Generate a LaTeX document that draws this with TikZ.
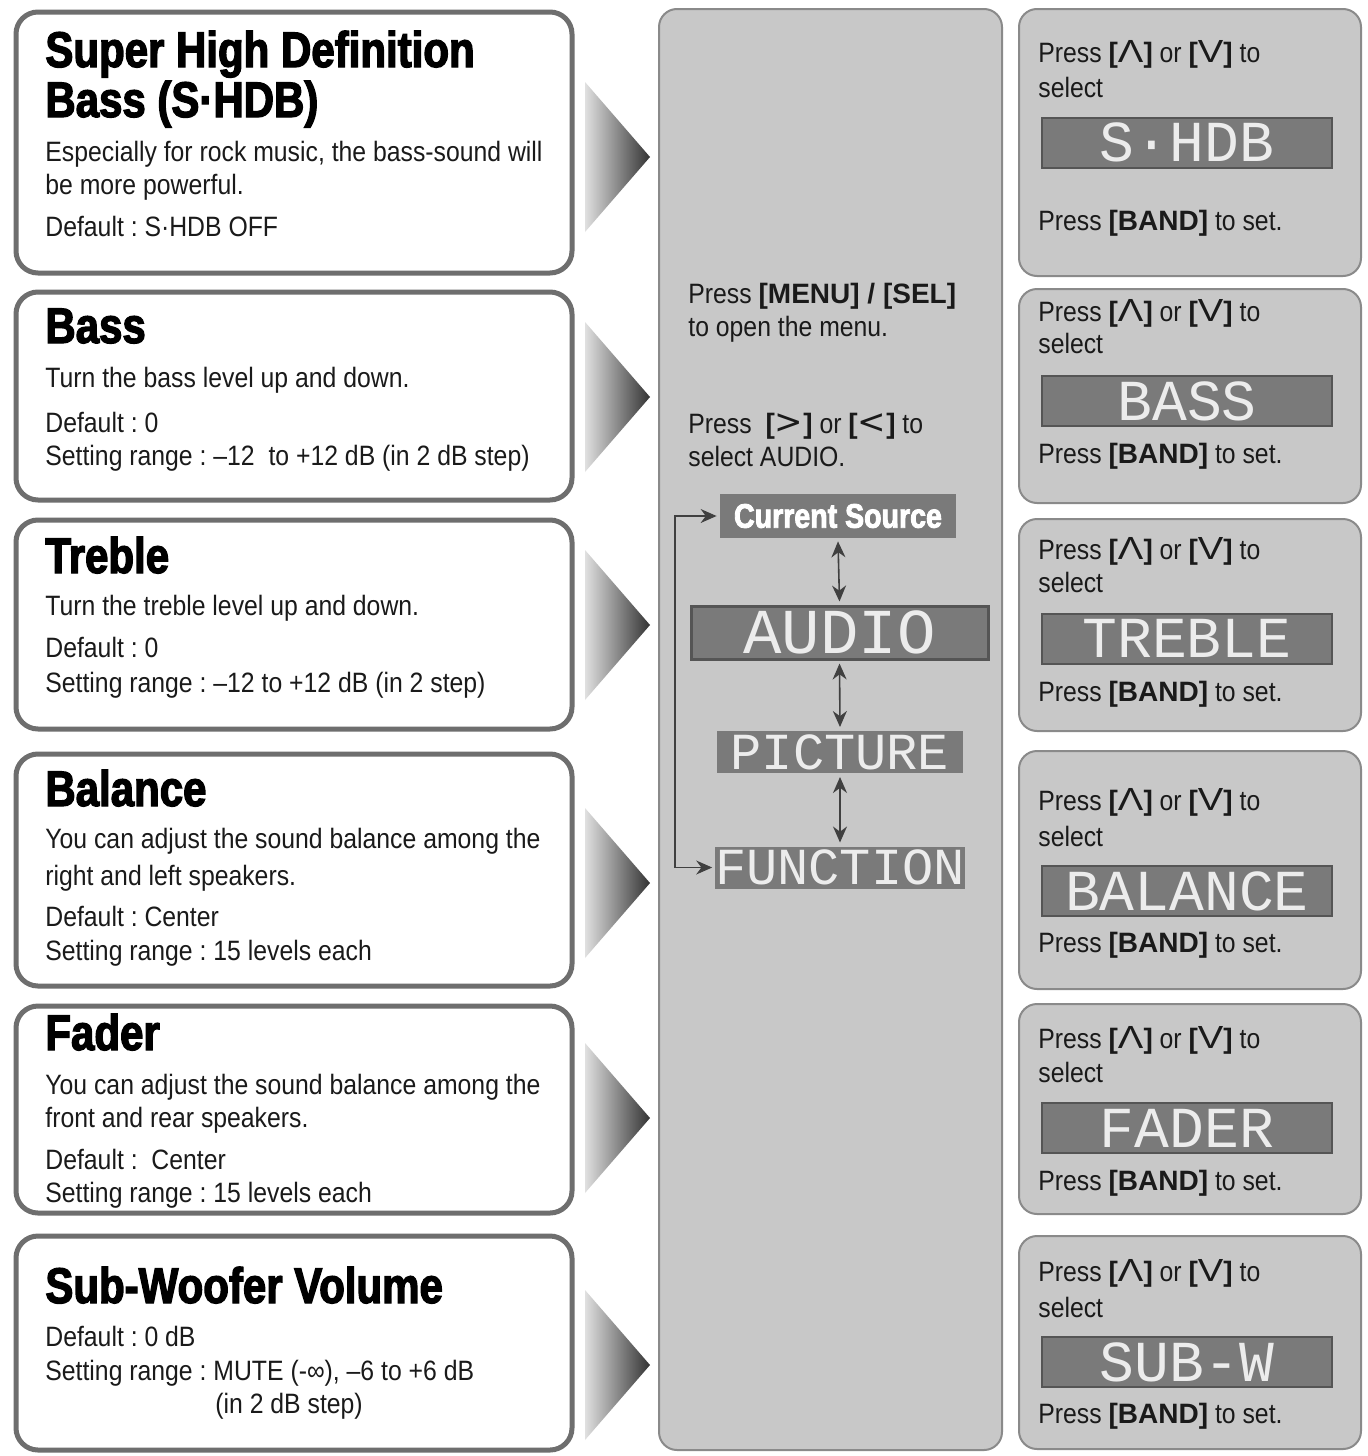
\documentclass[tikz,border=0pt]{standalone}
\usepackage{graphicx}
\usepackage{fontspec}
\setmainfont[FakeStretch=0.885,BoldFeatures={FakeStretch=1.0}]{Liberation Sans}
\newfontfamily\headfont[FakeStretch=0.84,BoldFeatures={FakeBold=2.6}]{Liberation Sans}
\newfontfamily\lcdfont{Liberation Mono}
\newfontfamily\symfont{DejaVu Sans}
\usetikzlibrary{arrows.meta}
\frenchspacing

\definecolor{boxedge}{HTML}{6E6E6E}
\definecolor{panelfill}{HTML}{C8C8C8}
\definecolor{paneledge}{HTML}{8A8A8A}
\definecolor{lcdfill}{HTML}{7A7A7A}
\definecolor{lcdedge}{HTML}{555555}
\definecolor{lcdtext}{HTML}{ECECEC}
\definecolor{inktext}{HTML}{1A1A1A}

\newcommand{\upkey}{\textbf{[}\scalebox{1.35}[1]{\fontsize{16}{16}\selectfont Λ}\textbf{]}}
\newcommand{\downkey}{\textbf{[}\scalebox{1.35}[1]{\fontsize{16}{16}\selectfont V}\textbf{]}}
\newcommand{\rightkey}{\textbf{[}{\symfont\fontsize{17}{17}\selectfont >}\textbf{]}}
\newcommand{\leftkey}{\textbf{[}{\symfont\fontsize{17}{17}\selectfont <}\textbf{]}}

\tikzset{
  infobox/.style={draw=boxedge, line width=2.5pt, fill=white, rounded corners=11pt},
  panel/.style={draw=paneledge, line width=1pt, fill=panelfill, rounded corners=9pt},
  lcd/.style={fill=lcdfill, draw=lcdedge, line width=1pt, inner sep=0pt, text=lcdtext},
  head/.style={anchor=base west, inner sep=0pt, text=black,
    font={\headfont\bfseries\fontsize{25}{25}\selectfont}},
  body/.style={anchor=base west, inner sep=0pt, text=inktext,
    font={\fontsize{14}{16.5}\selectfont}},
  updown/.style={draw=black!75, line width=0.8pt,
    {Stealth[length=8pt,width=7pt]}-{Stealth[length=8pt,width=7pt]}}
}

\begin{document}
\begin{tikzpicture}[x=0.5pt,y=-0.5pt]
  \useasboundingbox[fill=white] (0,0) rectangle (1368,1456);

  % left column
  \draw[infobox] (16,12) rectangle (572,273);
  \draw[infobox] (16,292) rectangle (572,500);
  \draw[infobox] (16,520) rectangle (572,729);
  \draw[infobox] (16,754) rectangle (572,986);
  \draw[infobox] (16,1006) rectangle (572,1213);
  \draw[infobox] (16,1236) rectangle (572,1450);

  \node[head] (shdb1) at (45,67) {Super High Definition};
  \node[head] (shdb2) at (45,117) {Bass (S·HDB)};
  \node[body] (shdb3) at (45,161) {Especially for rock music, the bass-sound will};
  \node[body] (shdb4) at (45,194) {be more powerful.};
  \node[body] (shdb5) at (45,236) {Default : S·HDB OFF};

  \node[head] (bass1) at (45,343) {Bass};
  \node[body] (bass2) at (45,387) {Turn the bass level up and down.};
  \node[body] (bass3) at (45,432) {Default : 0};
  \node[body] (bass4) at (45,465) {Setting range : –12\ \ to +12 dB (in 2 dB step)};

  \node[head] (treb1) at (45,573) {Treble};
  \node[body] (treb2) at (45,615) {Turn the treble level up and down.};
  \node[body] (treb3) at (45,657) {Default : 0};
  \node[body] (treb4) at (45,692) {Setting range : –12 to +12 dB (in 2 step)};

  \node[head] (bal1) at (45,806) {Balance};
  \node[body] (bal2) at (45,848) {You can adjust the sound balance among the};
  \node[body] (bal3) at (45,885) {right and left speakers.};
  \node[body] (bal4) at (45,926) {Default : Center};
  \node[body] (bal5) at (45,960) {Setting range : 15 levels each};

  \node[head] (fad1) at (45,1050) {Fader};
  \node[body] (fad2) at (45,1094) {You can adjust the sound balance among the};
  \node[body] (fad3) at (45,1127) {front and rear speakers.};
  \node[body] (fad4) at (45,1169) {Default :\ \ Center};
  \node[body] (fad5) at (45,1202) {Setting range : 15 levels each};

  \node[head] (sub1) at (45,1303) {Sub-Woofer Volume};
  \node[body] (sub2) at (45,1346) {Default : 0 dB};
  \node[body] (sub3) at (45,1380) {Setting range : MUTE (-∞), –6 to +6 dB};
  \node[body] (sub4) at (215,1413) {(in 2 dB step)};

  % grey pointers
  \foreach \c in {157,397,625,883,1118,1365}
    \shade[left color=black!12, right color=black!80]
      (585,\c-75) -- (650,\c) -- (585,\c+75) -- cycle;

  % menu column
  \draw[panel] (659,9) rectangle (1002,1450);
  \node[body] (menu1) at (688,303) {Press \textbf{[MENU] / [SEL]}};
  \node[body] (menu2) at (688,336) {to open the menu.};
  \node[body] (menu3) at (688,433) {Press\ \ \rightkey{} or \leftkey{} to};
  \node[body] (menu4) at (688,466) {select AUDIO.};

  \node[fill=lcdfill, text=white, inner sep=0pt, minimum width=118pt, minimum height=22pt,
    font={\headfont\bfseries\fontsize{17}{17}\selectfont}] (src) at (838,516) {Current Source};
  \node[lcd, minimum width=148.5pt, minimum height=26.5pt, line width=1.5pt,
    font={\lcdfont\fontsize{32}{32}\selectfont}] (audio) at (839.5,632.5) {AUDIO};
  \node[lcd, draw=none, minimum width=123pt, minimum height=21pt,
    font={\lcdfont\fontsize{26}{26}\selectfont}] (pict) at (840,752) {PICTURE};
  \node[lcd, draw=none, minimum width=123pt, minimum height=21pt,
    font={\lcdfont\fontsize{26}{26}\selectfont}] (func) at (840,867.5) {FUNCTION};

  \draw[updown] ([yshift=-1.5pt]src.south) -- ([yshift=1.5pt]audio.north);
  \draw[updown] ([yshift=-1.5pt]audio.south) -- ([yshift=1.5pt]pict.north);
  \draw[updown] ([yshift=-1.5pt]pict.south) -- ([yshift=1.5pt]func.north);
  \coordinate (loop) at (675,700);
  \draw[updown, line width=0.6pt] ([xshift=-1.5pt]src.west) -| (loop) |- ([xshift=-1pt]func.west);

  % setting column
  \draw[panel] (1019,9) rectangle (1361,276);
  \draw[panel] (1019,289) rectangle (1361,503);
  \draw[panel] (1019,519) rectangle (1361,731);
  \draw[panel] (1019,751) rectangle (1361,989);
  \draw[panel] (1019,1004) rectangle (1361,1214);
  \draw[panel] (1019,1236) rectangle (1361,1449);

  \node[body] (sel1a) at (1038,62) {Press \upkey{} or \downkey{} to};
  \node[body] (sel1b) at (1038,97) {select};
  \node[lcd, minimum width=145pt, minimum height=25pt,
    font={\lcdfont\fontsize{29}{29}\selectfont}] (lcd1) at (1187,142.5) {S·HDB};
  \node[body] (set1) at (1038,230) {Press \textbf{[BAND]} to set.};

  \node[body] (sel2a) at (1038,321) {Press \upkey{} or \downkey{} to};
  \node[body] (sel2b) at (1038,353) {select};
  \node[lcd, minimum width=145pt, minimum height=25pt,
    font={\lcdfont\fontsize{29}{29}\selectfont}] (lcd2) at (1187,401) {BASS};
  \node[body] (set2) at (1038,463) {Press \textbf{[BAND]} to set.};

  \node[body] (sel3a) at (1038,559) {Press \upkey{} or \downkey{} to};
  \node[body] (sel3b) at (1038,592) {select};
  \node[lcd, minimum width=145pt, minimum height=25pt,
    font={\lcdfont\fontsize{29}{29}\selectfont}] (lcd3) at (1187,638.5) {TREBLE};
  \node[body] (set3) at (1038,701) {Press \textbf{[BAND]} to set.};

  \node[body] (sel4a) at (1038,810) {Press \upkey{} or \downkey{} to};
  \node[body] (sel4b) at (1038,846) {select};
  \node[lcd, minimum width=145pt, minimum height=25pt,
    font={\lcdfont\fontsize{29}{29}\selectfont}] (lcd4) at (1187,891) {BALANCE};
  \node[body] (set4) at (1038,952) {Press \textbf{[BAND]} to set.};

  \node[body] (sel5a) at (1038,1048) {Press \upkey{} or \downkey{} to};
  \node[body] (sel5b) at (1038,1082) {select};
  \node[lcd, minimum width=145pt, minimum height=25pt,
    font={\lcdfont\fontsize{29}{29}\selectfont}] (lcd5) at (1187,1128) {FADER};
  \node[body] (set5) at (1038,1190) {Press \textbf{[BAND]} to set.};

  \node[body] (sel6a) at (1038,1281) {Press \upkey{} or \downkey{} to};
  \node[body] (sel6b) at (1038,1317) {select};
  \node[lcd, minimum width=145pt, minimum height=25pt,
    font={\lcdfont\fontsize{29}{29}\selectfont}] (lcd6) at (1187,1362) {SUB-W};
  \node[body] (set6) at (1038,1423) {Press \textbf{[BAND]} to set.};
\end{tikzpicture}
\end{document}
